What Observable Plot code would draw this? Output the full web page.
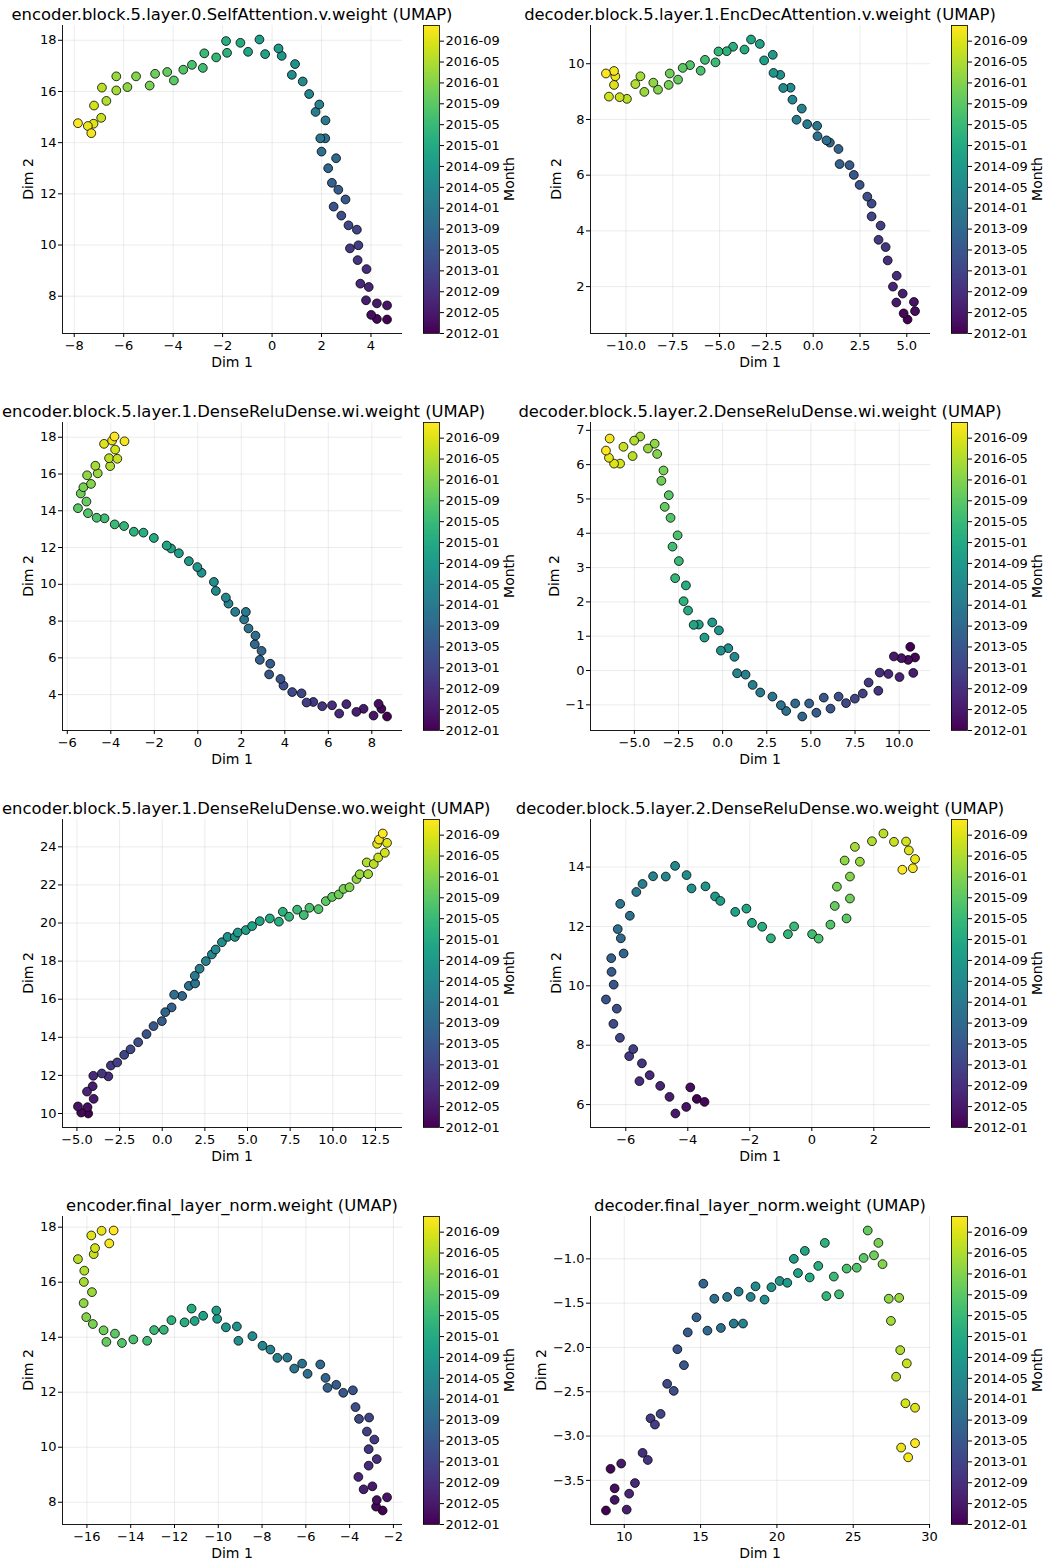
<!DOCTYPE html>
<html><head><meta charset="utf-8">
<script src="https://cdn.jsdelivr.net/npm/d3@7"></script>
<script src="https://cdn.jsdelivr.net/npm/@observablehq/plot@0.6"></script>
<style>
body{margin:0;background:#fff;font-family:"DejaVu Sans",sans-serif;}
#fig{position:relative;width:1045px;height:1564px;overflow:hidden;background:#fff;}
.cell{position:absolute;}
.title{position:absolute;font-size:16.4px;white-space:nowrap;line-height:20px;color:#000;}
.lab{position:absolute;font-size:14px;white-space:nowrap;line-height:16px;color:#000;transform:translate(-50%,-50%);}
.rot{transform:translate(-50%,-50%) rotate(-90deg);}
</style></head><body><div id="fig"></div>
<script>
// ---- months / colorbar ----
const firstMonth = "2012-01", lastMonth = "2016-12";
const cbTicks = ["2012-01","2012-05","2012-09","2013-01","2013-05","2013-09","2014-01","2014-05","2014-09","2015-01","2015-05","2015-09","2016-01","2016-05","2016-09"];

// ---- titles ----
const titles = [
  "encoder.block.5.layer.0.SelfAttention.v.weight (UMAP)",
  "decoder.block.5.layer.1.EncDecAttention.v.weight (UMAP)",
  "encoder.block.5.layer.1.DenseReluDense.wi.weight (UMAP)",
  "decoder.block.5.layer.2.DenseReluDense.wi.weight (UMAP)",
  "encoder.block.5.layer.1.DenseReluDense.wo.weight (UMAP)",
  "decoder.block.5.layer.2.DenseReluDense.wo.weight (UMAP)",
  "encoder.final_layer_norm.weight (UMAP)",
  "decoder.final_layer_norm.weight (UMAP)"
];

// ---- panel values (one point per month, 2012-01 .. 2016-12) ----
const p1x = [4.65,4.24,4.01,4.65,4.24,3.80,3.91,3.57,3.82,3.46,3.15,3.49,3.43,3.09,2.80,2.49,2.97,2.68,2.42,2.27,2.59,2.00,2.15,1.95,2.16,1.76,1.91,1.50,1.24,0.80,0.93,0.39,0.26,-0.51,-0.28,-0.97,-1.28,-1.86,-1.82,-2.26,-2.74,-2.80,-3.24,-3.59,-3.97,-4.24,-4.73,-4.95,-5.50,-5.85,-6.30,-6.30,-6.70,-6.88,-6.91,-7.20,-7.22,-7.45,-7.31,-7.85];
const p1y = [7.09,7.11,7.27,7.64,7.72,7.84,8.36,8.49,9.06,9.41,9.87,9.99,10.60,10.77,11.15,11.50,11.78,12.16,12.43,13.00,13.39,13.65,14.17,14.17,14.87,15.20,15.49,15.90,16.39,16.65,17.07,17.39,17.68,18.03,17.46,17.55,17.90,17.97,17.51,17.33,17.49,16.92,17.04,16.85,16.43,16.76,16.69,16.23,16.59,16.17,16.59,16.04,15.63,16.15,14.97,15.45,14.74,14.65,14.37,14.76];

const p2x = [5.04,4.83,5.44,5.38,4.44,4.78,4.26,4.46,3.98,3.87,3.49,3.60,3.12,3.12,2.89,2.48,2.17,1.94,1.41,1.35,0.89,0.71,0.23,0.21,-0.32,-0.89,-0.61,-1.11,-1.21,-1.60,-1.76,-2.12,-2.16,-2.62,-2.85,-3.32,-3.67,-4.28,-4.62,-5.06,-5.22,-5.78,-6.01,-6.58,-6.97,-7.22,-7.66,-7.72,-8.29,-8.54,-9.02,-9.23,-9.50,-9.95,-10.34,-10.91,-10.64,-10.57,-10.64,-11.07];
const p2y = [0.82,1.04,1.12,1.45,1.43,1.75,2.00,2.39,2.94,3.42,3.68,4.19,4.52,4.98,5.23,5.65,6.01,6.36,6.40,6.94,7.17,7.25,7.40,7.77,7.83,7.99,8.39,8.71,9.14,9.13,9.60,9.67,10.32,10.12,10.71,10.87,10.51,10.61,10.45,10.44,10.05,10.14,9.75,9.95,9.85,9.43,9.65,9.24,9.07,9.32,8.99,9.55,9.27,8.74,8.80,8.82,9.24,9.55,9.74,9.65];

const p3x = [8.70,8.44,8.31,8.08,7.62,7.29,6.83,6.50,6.17,5.72,5.31,5.00,4.77,4.34,3.94,3.80,3.28,3.33,2.85,2.93,2.62,2.65,2.33,2.13,2.21,1.72,1.41,1.29,0.83,0.74,0.17,-0.02,-0.41,-0.87,-1.23,-1.43,-2.02,-2.50,-2.94,-3.39,-3.82,-4.29,-4.65,-5.05,-5.51,-5.12,-5.38,-5.26,-4.91,-5.09,-4.60,-4.71,-4.03,-4.08,-3.70,-3.80,-4.31,-3.94,-3.37,-3.83];
const p3y = [2.81,3.23,3.50,2.86,3.23,3.06,3.48,2.97,3.42,3.37,3.60,3.57,4.07,4.14,4.49,4.85,5.10,5.68,5.89,6.38,6.74,7.21,7.60,8.09,8.50,8.50,8.95,9.28,9.64,10.13,10.63,10.94,11.26,11.69,11.95,12.11,12.52,12.81,12.86,13.17,13.26,13.59,13.62,13.87,14.14,14.50,14.94,15.28,15.46,15.93,16.04,16.45,16.43,16.86,16.83,17.33,17.64,17.82,17.78,18.04];

const p4x = [10.63,10.90,10.51,10.13,9.70,10.80,10.02,9.39,8.90,8.82,8.27,7.94,7.49,6.99,6.57,6.11,5.73,5.31,4.90,4.51,4.11,3.60,3.30,2.82,2.13,1.70,1.30,0.82,0.67,0.32,-0.10,-0.21,-0.59,-1.03,-1.35,-1.64,-1.96,-2.08,-2.21,-2.69,-2.48,-2.84,-2.55,-2.95,-3.05,-3.28,-3.47,-3.35,-3.71,-3.85,-4.23,-4.67,-5.01,-5.10,-5.62,-5.81,-6.15,-6.44,-6.40,-6.61];
const p4y = [0.69,0.38,0.31,0.36,0.41,-0.07,-0.19,-0.10,-0.06,-0.59,-0.35,-0.67,-0.82,-0.95,-0.76,-1.11,-0.79,-1.23,-0.96,-1.34,-0.96,-1.18,-1.01,-0.76,-0.64,-0.42,-0.12,-0.08,0.40,0.65,0.58,1.17,1.40,0.96,1.34,1.33,1.75,2.48,2.02,2.69,3.19,3.61,3.94,4.45,5.11,4.77,5.53,5.83,6.31,6.61,6.47,6.82,6.70,6.25,6.52,6.03,6.03,6.20,6.76,6.41];

const p5x = [-4.34,-4.75,-4.38,-4.94,-4.02,-4.08,-4.41,-4.04,-3.16,-3.54,-3.01,-2.64,-2.23,-1.86,-1.41,-0.92,-0.51,-0.02,0.55,0.18,1.17,0.70,1.56,1.93,1.91,2.19,2.56,2.91,3.13,3.50,3.83,4.26,4.43,4.90,5.27,5.72,6.31,6.84,7.07,7.44,7.91,8.30,8.63,9.16,9.59,9.96,10.35,10.63,10.98,11.39,11.58,12.07,11.99,12.40,12.66,13.05,13.18,12.60,12.71,12.93];
const p5y = [10.00,10.05,10.33,10.37,10.77,11.43,11.15,11.98,11.95,12.10,12.52,12.68,13.08,13.37,13.74,14.17,14.59,14.85,15.57,15.32,16.17,16.24,16.70,16.83,17.23,17.60,18.00,18.35,18.61,18.99,19.27,19.27,19.50,19.63,19.84,20.10,20.24,20.07,20.59,20.33,20.70,20.42,20.80,20.73,21.15,21.37,21.50,21.79,21.88,22.31,22.56,22.57,23.18,23.10,23.44,23.69,24.21,24.16,24.38,24.70];

const p6x = [-3.71,-3.46,-3.92,-4.05,-4.40,-4.59,-4.89,-5.23,-5.56,-5.48,-5.89,-5.76,-6.19,-6.40,-6.29,-6.64,-6.39,-6.46,-6.47,-6.07,-6.16,-6.26,-5.87,-6.18,-5.66,-5.46,-5.12,-4.71,-4.41,-4.04,-3.88,-3.43,-3.12,-2.95,-2.47,-2.11,-1.93,-1.60,-1.32,-0.77,-0.57,0.01,0.22,0.60,1.12,0.74,1.23,0.81,1.23,1.06,1.55,1.39,1.94,2.31,2.65,3.04,3.13,3.33,3.26,2.92];
const p6y = [6.19,6.09,6.58,5.92,5.70,6.26,6.63,6.99,6.79,7.39,7.63,7.87,8.25,8.72,9.23,9.54,10.04,10.47,10.93,11.09,11.60,11.91,12.36,12.76,13.16,13.43,13.69,13.68,14.04,13.73,13.28,13.35,13.01,12.86,12.49,12.60,12.12,11.99,11.60,11.74,12.00,11.74,11.59,12.06,12.27,12.69,12.94,13.34,13.68,14.22,14.18,14.68,14.87,15.13,14.85,14.86,14.56,14.27,13.96,13.91];

const p7x = [-2.49,-2.79,-2.76,-2.29,-2.96,-3.36,-3.60,-3.13,-2.76,-3.13,-2.87,-3.21,-3.11,-3.57,-3.73,-3.85,-4.29,-4.61,-5.01,-5.10,-5.34,-5.92,-6.17,-6.53,-6.85,-7.30,-7.62,-7.98,-8.44,-9.08,-9.15,-9.65,-10.05,-10.09,-10.69,-11.08,-11.22,-11.54,-12.14,-12.49,-12.93,-13.25,-13.88,-14.40,-14.72,-15.11,-15.24,-15.73,-16.03,-16.15,-15.77,-16.14,-16.12,-16.41,-15.69,-15.63,-15.80,-15.33,-14.98,-14.78];
const p7y = [7.70,7.84,8.08,8.18,8.58,8.47,8.92,9.33,9.57,9.93,10.28,10.57,11.08,11.03,11.46,12.07,11.98,12.27,12.16,12.52,13.01,12.67,13.04,12.86,13.26,13.25,13.55,13.69,14.04,13.87,14.39,14.36,14.67,14.97,14.78,14.59,15.04,14.54,14.62,14.27,14.26,13.87,13.92,13.79,14.13,13.83,14.25,14.48,14.73,15.24,15.64,16.01,16.42,16.84,17.02,17.24,17.70,17.87,17.41,17.88];

const p8x = [8.80,9.10,9.37,9.37,9.80,10.16,10.32,10.70,11.20,11.54,11.72,12.01,12.38,12.81,13.24,13.48,13.91,14.16,14.73,15.18,15.45,15.90,16.33,16.74,17.17,17.49,17.78,18.28,18.60,19.19,19.64,20.18,20.68,21.11,21.38,21.83,22.15,22.71,23.14,23.24,23.73,24.07,24.57,25.23,25.68,25.95,26.36,26.65,26.92,27.33,28.01,27.47,28.08,27.81,28.51,28.42,29.05,28.14,28.60,29.05];
const p8y = [-3.84,-3.37,-3.59,-3.72,-3.31,-3.83,-3.65,-3.53,-3.19,-3.27,-2.80,-2.87,-2.75,-2.41,-2.49,-2.02,-2.20,-1.83,-1.66,-1.28,-1.81,-1.45,-1.78,-1.43,-1.73,-1.37,-1.73,-1.43,-1.31,-1.46,-1.32,-1.25,-1.27,-1.00,-1.16,-0.91,-1.21,-1.08,-0.82,-1.42,-1.20,-1.40,-1.11,-1.10,-0.99,-0.68,-0.96,-0.82,-1.06,-1.45,-1.44,-1.70,-2.03,-2.33,-2.18,-2.63,-2.68,-3.13,-3.24,-3.08];

// ---- tick values ----
const p1XTicks = [-8,-6,-4,-2,0,2,4], p1YTicks = [8,10,12,14,16,18];
const p2XTicks = [-10,-7.5,-5,-2.5,0,2.5,5], p2YTicks = [2,4,6,8,10];
const p3XTicks = [-6,-4,-2,0,2,4,6,8], p3YTicks = [4,6,8,10,12,14,16,18];
const p4XTicks = [-5,-2.5,0,2.5,5,7.5,10], p4YTicks = [-1,0,1,2,3,4,5,6,7];
const p5XTicks = [-5,-2.5,0,2.5,5,7.5,10,12.5], p5YTicks = [10,12,14,16,18,20,22,24];
const p6XTicks = [-6,-4,-2,0,2], p6YTicks = [6,8,10,12,14];
const p7XTicks = [-16,-14,-12,-10,-8,-6,-4,-2], p7YTicks = [8,10,12,14,16,18];
const p8XTicks = [10,15,20,25,30], p8YTicks = [-3.5,-3,-2.5,-2,-1.5,-1];

// ---- build ----
const parseM = d3.utcParse("%Y-%m"), fmtM = d3.utcFormat("%Y-%m");
const months = d3.utcMonth.range(parseM(firstMonth), d3.utcMonth.offset(parseM(lastMonth), 1)).map(fmtM);
const lastIdx = months.length - 1;
const fInt = d3.format("d"), f1 = d3.format(".1f");

const panels = [
  {x:p1x, y:p1y, xt:p1XTicks, yt:p1YTicks, xf:fInt, yf:fInt},
  {x:p2x, y:p2y, xt:p2XTicks, yt:p2YTicks, xf:f1, yf:fInt},
  {x:p3x, y:p3y, xt:p3XTicks, yt:p3YTicks, xf:fInt, yf:fInt},
  {x:p4x, y:p4y, xt:p4XTicks, yt:p4YTicks, xf:f1, yf:fInt},
  {x:p5x, y:p5y, xt:p5XTicks, yt:p5YTicks, xf:f1, yf:fInt},
  {x:p6x, y:p6y, xt:p6XTicks, yt:p6YTicks, xf:fInt, yf:fInt},
  {x:p7x, y:p7y, xt:p7XTicks, yt:p7YTicks, xf:fInt, yf:fInt},
  {x:p8x, y:p8y, xt:p8XTicks, yt:p8YTicks, xf:fInt, yf:f1}
];
panels.forEach((p, i) => p.title = titles[i]);

const colorScale = {type: "linear", scheme: "viridis", domain: [0, lastIdx]};
const fontStyle = {fontFamily: "DejaVu Sans", fontSize: "13px", color: "#000", background: "transparent", overflow: "visible"};
const ext = a => { const [lo, hi] = d3.extent(a); const pad = (hi - lo) * 0.05; return [lo - pad, hi + pad]; };

const ctx = document.createElement("canvas").getContext("2d");
const measure = (s, font) => { ctx.font = font; return ctx.measureText(s).width; };

const fig = document.getElementById("fig");
const FW = 340, FH = 308;

panels.forEach((p, i) => {
  const col = i % 2, row = Math.floor(i / 2);
  const ox = col * 528, oy = row * 397;
  const frameL = 62 + ox, frameT = 25 + oy;

  const place = (el, x, y) => { el.style.position = "absolute"; el.style.left = x + "px"; el.style.top = y + "px"; fig.appendChild(el); };

  // scatter
  const data = p.x.map((x, j) => ({x, y: p.y[j], m: j}));
  const xd = ext(p.x), yd = ext(p.y);
  const mL = 50, mT = 10, mR = 10, mB = 30;
  const svg = Plot.plot({
    width: mL + FW + mR, height: mT + FH + mB,
    marginLeft: mL, marginRight: mR, marginTop: mT, marginBottom: mB,
    style: fontStyle,
    x: {domain: xd, ticks: p.xt, tickFormat: p.xf, tickSize: 4, tickPadding: 3, label: null},
    y: {domain: yd, ticks: p.yt, tickFormat: p.yf, tickSize: 4, tickPadding: 2, label: null},
    color: colorScale,
    marks: [
      Plot.ruleX(p.xt, {stroke: "#b0b0b0", strokeOpacity: 0.3, strokeWidth: 0.8}),
      Plot.ruleY(p.yt, {stroke: "#b0b0b0", strokeOpacity: 0.3, strokeWidth: 0.8}),
      Plot.ruleX([xd[0]], {stroke: "#000", strokeWidth: 0.9}),
      Plot.ruleY([yd[0]], {stroke: "#000", strokeWidth: 0.9}),
      Plot.dot(data, {x: "x", y: "y", fill: "m", r: 4.4, stroke: "#000", strokeWidth: 0.8})
    ]
  });
  place(svg, frameL - mL, frameT - mT);

  // colorbar
  const cbL = 423 + ox, cbW = 16;
  const nS = FH;
  const stripes = d3.range(nS).map(k => ({a: k * lastIdx / nS, b: (k + 1) * lastIdx / nS}));
  const cb = Plot.plot({
    width: 5 + cbW + 75, height: mT + FH + mB,
    marginLeft: 5, marginRight: 75, marginTop: mT, marginBottom: mB,
    style: fontStyle,
    x: {domain: [0, 1], axis: null},
    y: {domain: [0, lastIdx], axis: "right", ticks: cbTicks.map(t => months.indexOf(t)), tickFormat: k => months[k], tickSize: 4, tickPadding: 2, label: null},
    color: colorScale,
    marks: [
      Plot.rect(stripes, {x1: () => 0, x2: () => 1, y1: "a", y2: "b", fill: d => (d.a + d.b) / 2, shapeRendering: "crispEdges"}),
      Plot.frame({stroke: "#000", strokeWidth: 0.8})
    ]
  });
  place(cb, cbL - 5, frameT - mT);

  // title (kept fully visible)
  const tw = measure(p.title, "16.4px 'DejaVu Sans'");
  let tl = frameL + FW / 2 - tw / 2;
  if (tl < 2) tl = 2;
  const t = document.createElement("div");
  t.className = "title"; t.textContent = p.title;
  place(t, tl, oy + 5);

  // Dim 1
  const l1 = document.createElement("div");
  l1.className = "lab"; l1.textContent = "Dim 1";
  place(l1, frameL + FW / 2, frameT + FH + 28.5);

  // Dim 2
  const w = d3.max(p.yt, v => measure(p.yf(v), "13px 'DejaVu Sans'"));
  const l2 = document.createElement("div");
  l2.className = "lab rot"; l2.textContent = "Dim 2";
  place(l2, frameL - 6 - w - 4 - 7, frameT + FH / 2);

  // Month
  const l3 = document.createElement("div");
  l3.className = "lab rot"; l3.textContent = "Month";
  place(l3, cbL + cbW + 70, frameT + FH / 2);
});
</script></body></html>
